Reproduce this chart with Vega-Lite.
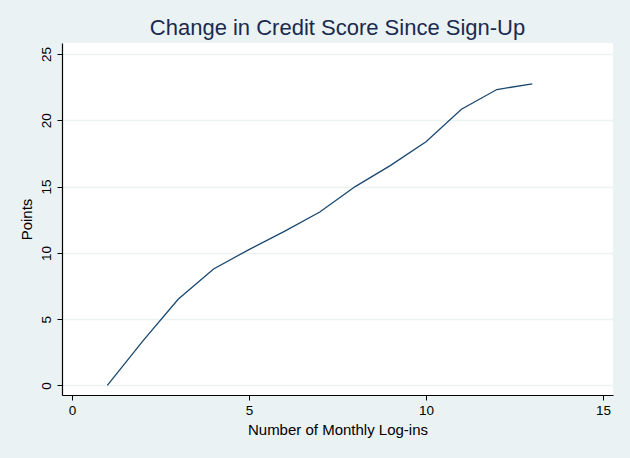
{
  "$schema": "https://vega.github.io/schema/vega-lite/v6.json",
  "autosize": "none",
  "width": 551,
  "height": 352,
  "padding": {"left": 62, "top": 43, "right": 17, "bottom": 63},
  "background": "#eaf2f3",
  "config": {
    "view": {"fill": "white", "stroke": null},
    "font": "Liberation Sans"
  },
  "title": {
    "text": "Change in Credit Score Since Sign-Up",
    "fontSize": 22,
    "fontWeight": "normal",
    "color": "#1a2a4f",
    "anchor": "middle",
    "offset": 3
  },
  "data": {
    "values": [
      {"logins": 1, "points": 0},
      {"logins": 2, "points": 3.35},
      {"logins": 3, "points": 6.5},
      {"logins": 4, "points": 8.78},
      {"logins": 5, "points": 10.25},
      {"logins": 6, "points": 11.62},
      {"logins": 7, "points": 13.08},
      {"logins": 8, "points": 15.0},
      {"logins": 9, "points": 16.6},
      {"logins": 10, "points": 18.38},
      {"logins": 11, "points": 20.84},
      {"logins": 12, "points": 22.32},
      {"logins": 13, "points": 22.75}
    ]
  },
  "mark": {"type": "line", "color": "#1a476f", "strokeWidth": 1.3},
  "encoding": {
    "x": {
      "field": "logins",
      "type": "quantitative",
      "title": "Number of Monthly Log-ins",
      "scale": {"domain": [-0.28, 15.28], "nice": false, "zero": false},
      "axis": {
        "values": [0, 5, 10, 15],
        "grid": false,
        "domainColor": "black",
        "domainWidth": 1.2,
        "tickColor": "black",
        "tickSize": 5,
        "labelFontSize": 13.5,
        "labelColor": "black",
        "labelPadding": 3,
        "titleFontSize": 15,
        "titleFontWeight": "normal",
        "titleColor": "black",
        "titlePadding": 6
      }
    },
    "y": {
      "field": "points",
      "type": "quantitative",
      "title": "Points",
      "scale": {"domain": [-0.72, 25.83], "nice": false, "zero": false},
      "axis": {
        "values": [0, 5, 10, 15, 20, 25],
        "grid": true,
        "gridColor": "#eaf2f3",
        "gridWidth": 1.5,
        "domainColor": "black",
        "domainWidth": 1.2,
        "tickColor": "black",
        "tickSize": 5,
        "labelAngle": 270,
        "labelAlign": "center",
        "labelBaseline": "bottom",
        "labelFontSize": 13.5,
        "labelColor": "black",
        "labelPadding": 4,
        "titleFontSize": 15,
        "titleFontWeight": "normal",
        "titleColor": "black",
        "titlePadding": 5
      }
    }
  }
}
